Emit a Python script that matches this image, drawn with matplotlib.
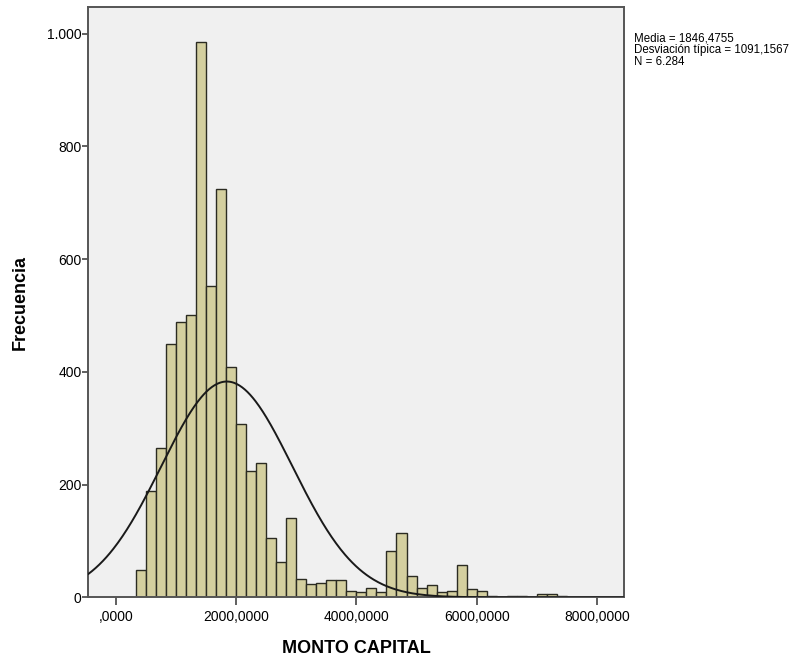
import numpy as np
import matplotlib
matplotlib.use("Agg")
import matplotlib.pyplot as plt

plt.rcParams['font.family'] = ['Liberation Sans', 'DejaVu Sans']

# histogram of MONTO CAPITAL (bin width 166,67 starting at 333,33)
bin_start = 333.333
bin_width = 166.667
counts = [49, 189, 265, 450, 488, 501, 985, 553, 725, 409,
          307, 225, 238, 106, 63, 140, 32, 24, 25, 31,
          30, 12, 10, 16, 10, 83, 115, 38, 17, 21,
          10, 12, 57, 15, 12, 3, 1, 2, 3, 1,
          5, 6, 2, 0]

# summary stats shown on the chart
media = 1846.4755
desv = 1091.1567
n_total = 6284

xticks = [0, 2000, 4000, 6000, 8000]
xtick_labels = [",0000", "2000,0000", "4000,0000", "6000,0000", "8000,0000"]
yticks = [0, 200, 400, 600, 800, 1000]
ytick_labels = ["0", "200", "400", "600", "800", "1.000"]

fig = plt.figure(figsize=(8.06, 6.59), dpi=100)
ax = fig.add_axes([0.1098, 0.0936, 0.6644, 0.8962])
ax.set_facecolor('#f0f0f0')

lefts = bin_start + bin_width * np.arange(len(counts))
ax.bar(lefts, counts, width=bin_width, align='edge',
       color='#d4cf9f', edgecolor='#2b2b22', linewidth=1.0, zorder=2)

# normal curve from media / desviacion
xmin, xmax = -452, 8448
xs = np.linspace(xmin, xmax, 600)
ys = n_total * bin_width * np.exp(-0.5 * ((xs - media) / desv) ** 2) / (desv * np.sqrt(2 * np.pi))
ax.plot(xs, ys, color='#1a1a1a', linewidth=1.4, zorder=3)

ax.set_xlim(xmin, xmax)
ax.set_ylim(0, 1048)
ax.set_xticks(xticks)
ax.set_xticklabels(xtick_labels)
ax.set_yticks(yticks)
ax.set_yticklabels(ytick_labels)
ax.tick_params(axis='x', length=6, width=1.2, color='#444444', labelsize=10, pad=3)
ax.tick_params(axis='y', length=4, width=1.2, color='#444444', labelsize=10, pad=1)
for s in ax.spines.values():
    s.set_color('#555555')
    s.set_linewidth(1.4)

ax.set_xlabel("MONTO CAPITAL", fontsize=13, fontweight='bold', labelpad=12)
ax.set_ylabel("Frecuencia", fontsize=13, fontweight='bold', labelpad=13)

fig.text(0.787, 0.951,
         "Media = 1846,4755\nDesviación típica = 1091,1567\nN = 6.284",
         fontsize=8.3, va='top', ha='left', linespacing=1.0)

fig.savefig("out.png", dpi=100)
